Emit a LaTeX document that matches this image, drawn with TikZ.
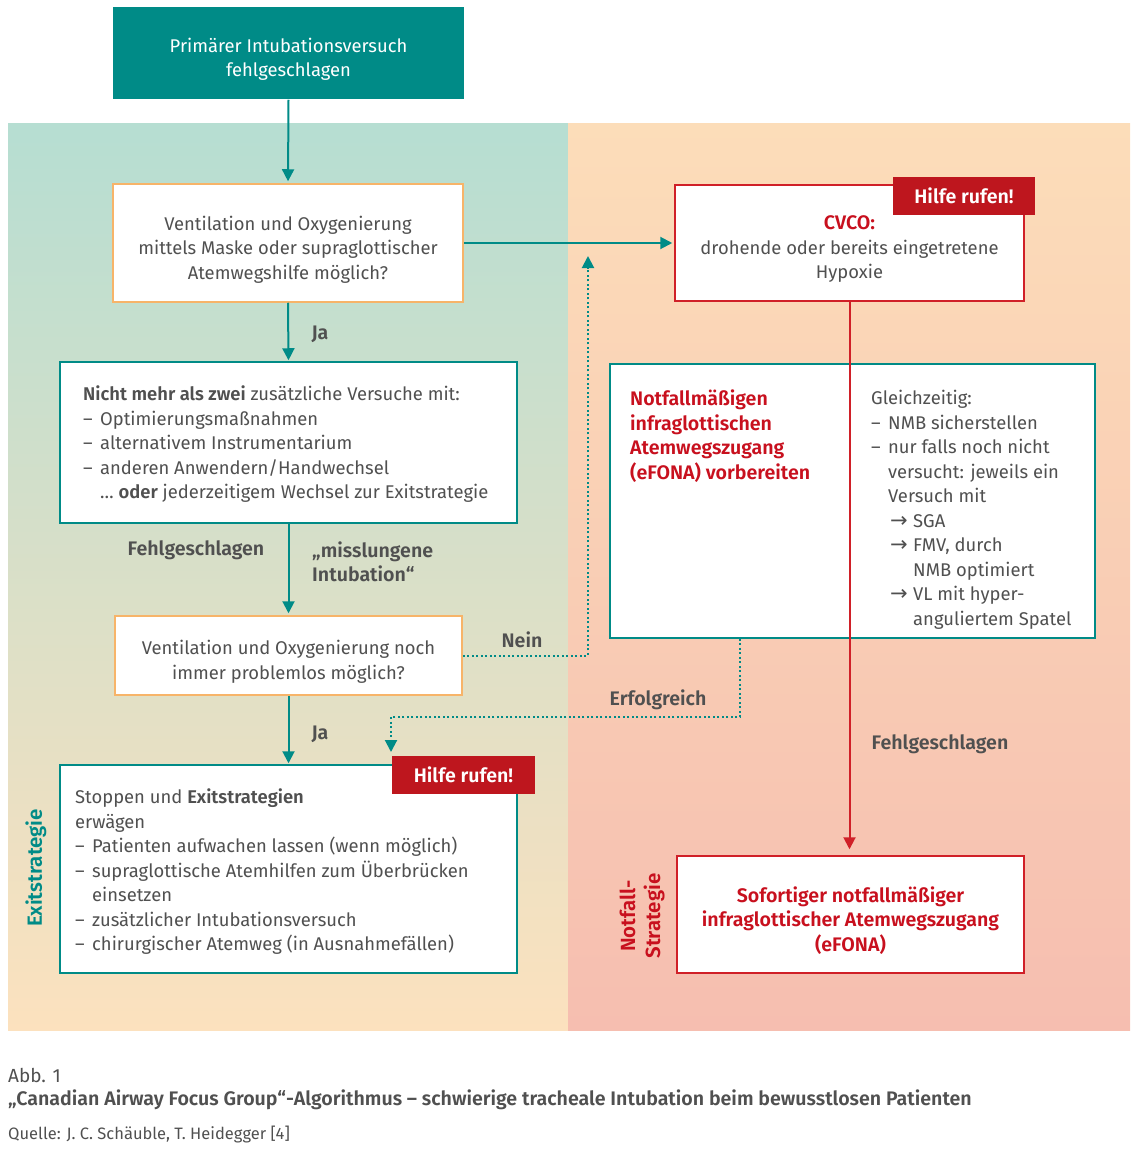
\documentclass[tikz,border=0pt]{standalone}
\usepackage{fontspec}
\setmainfont{Fira Sans}[BoldFont=* SemiBold]
\newfontfamily\arrowfont{DejaVu Sans}
\usetikzlibrary{arrows.meta}
\definecolor{teal1}{RGB}{0,139,135}
\definecolor{orng}{RGB}{247,180,105}
\definecolor{redb}{RGB}{208,32,40}
\definecolor{redt}{RGB}{200,16,30}
\definecolor{helpred}{RGB}{190,22,30}
\definecolor{txtgray}{RGB}{80,80,80}
\definecolor{ltop}{RGB}{182,222,210}
\definecolor{lmid}{RGB}{253,239,208}
\definecolor{lbot}{RGB}{252,225,190}
\definecolor{rtop}{RGB}{252,221,185}
\definecolor{rbot}{RGB}{246,190,176}
\newcommand\txt{\fontsize{18.4}{24.5}\selectfont}
\newcommand\btxt{\bfseries\fontsize{19.6}{24.5}\selectfont}
\newcommand\arr{\makebox[23pt][l]{\arrowfont\fontsize{21}{20}\selectfont →}}
\begin{document}
\begin{tikzpicture}[x=1pt,y=-1pt,
  box/.style={draw, fill=white, line width=1.5pt, inner sep=0pt},
  orangebox/.style={box, draw=orng},
  tealbox/.style={box, draw=teal1},
  redbox/.style={box, draw=redb},
  ctext/.style={font=\txt, text=txtgray, align=center, inner sep=0pt},
  helpbox/.style={fill=helpred, text=white, font=\btxt, inner sep=0pt, minimum width=142pt, minimum height=38pt},
  lbl/.style={font=\btxt, text=txtgray, inner sep=0pt},
  body/.style={font=\txt, text=txtgray, align=left, inner sep=0pt},
  tline/.style={draw=teal1, line width=2pt, -{Triangle[length=12pt,width=12pt]}},
  dline/.style={draw=teal1, line width=2pt, dash pattern=on 2pt off 2.5pt, -{Triangle[length=12pt,width=12pt]}},
  rline/.style={draw=redb, line width=2pt, -{Triangle[length=12pt,width=12pt]}}
]
\useasboundingbox (0,0) rectangle (1140,1151);
% panels
\fill[top color=ltop, middle color=lmid, bottom color=lbot] (8,123) rectangle (568,1030);
\fill[top color=rtop, bottom color=rbot] (568,123) rectangle (1130,1030);

% boxes
\node[box, fill=teal1, draw=none, minimum width=351pt, minimum height=92pt] (start) at (288.5,53) {};
\node[ctext, text=white] (startt) at (288.5,59.5) {Primärer Intubationsversuch\\fehlgeschlagen};
\node[orangebox, minimum width=350pt, minimum height=118pt] (b1) at (288,243) {};
\node[ctext] (b1t) at (288,249.5) {Ventilation und Oxygenierung\\mittels Maske oder supraglottischer\\Atemwegshilfe möglich?};
\node[redbox, minimum width=349pt, minimum height=116pt] (cvco) at (849.5,243) {};
\node[ctext] (cvcot) at (849.5,249.5) {\textcolor{redt}{\btxt CVCO:}\\drohende oder bereits eingetretene\\Hypoxie};
\node[tealbox, minimum width=457pt, minimum height=161pt] (b2) at (288.5,442.5) {};
\node[body, anchor=north west] (b2t) at (83,386) {\textbf{Nicht mehr als zwei} zusätzliche Versuche mit:\\
\makebox[17pt][l]{–}Optimierungsmaßnahmen\\
\makebox[17pt][l]{–}alternativem Instrumentarium\\
\makebox[17pt][l]{–}anderen Anwendern/Handwechsel\\
\hspace*{17pt}\dots\ \textbf{oder} jederzeitigem Wechsel zur Exitstrategie};
\node[tealbox, minimum width=485pt, minimum height=274pt] (prep) at (852.5,501) {};
\node[body, anchor=north west, text=redt, font=\btxt] (prepL) at (630,390) {Notfallmäßigen\\infraglottischen\\Atemwegszugang\\(eFONA) vorbereiten};
\node[body, anchor=north west] (prepR) at (871,390) {Gleichzeitig:\\
\makebox[17pt][l]{–}NMB sicherstellen\\
\makebox[17pt][l]{–}nur falls noch nicht\\
\hspace*{17pt}versucht: jeweils ein\\
\hspace*{17pt}Versuch mit\\
\hspace*{19pt}\arr SGA\\
\hspace*{19pt}\arr FMV, durch\\
\hspace*{42pt}NMB optimiert\\
\hspace*{19pt}\arr VL mit hyper-\\
\hspace*{42pt}anguliertem Spatel};
\node[orangebox, minimum width=347pt, minimum height=79pt] (b3) at (288.5,655.5) {};
\node[ctext] (b3t) at (288.5,662) {Ventilation und Oxygenierung noch\\immer problemlos möglich?};
\node[tealbox, minimum width=457pt, minimum height=208pt] (b4) at (288.5,869) {};
\node[body, anchor=north west] (b4t) at (75,789) {Stoppen und \textbf{Exitstrategien}\\
erwägen\\
\makebox[17pt][l]{–}Patienten aufwachen lassen (wenn möglich)\\
\makebox[17pt][l]{–}supraglottische Atemhilfen zum Überbrücken\\
\hspace*{17pt}einsetzen\\
\makebox[17pt][l]{–}zusätzlicher Intubationsversuch\\
\makebox[17pt][l]{–}chirurgischer Atemweg (in Ausnahmefällen)};
\node[redbox, minimum width=347pt, minimum height=117pt] (final) at (850.5,914.5) {};
\node[ctext, text=redt, font=\btxt] (finalt) at (850.5,920.5) {Sofortiger notfallmäßiger\\infraglottischer Atemwegszugang\\(eFONA)};

% side labels
\node[lbl, rotate=90, text=teal1, font=\bfseries\fontsize{20.5}{24}\selectfont] (exit) at (36,868) {Exitstrategie};
\node[lbl, rotate=90, text=redt, align=center, font=\bfseries\fontsize{20.5}{25}\selectfont] (notf) at (642,916) {Notfall-\\Strategie};

% connector labels
\node[lbl] (ja1) at (320,334) {Ja};
\node[lbl] (fehl1) at (196,550) {Fehlgeschlagen};
\node[lbl, align=left, anchor=west] (missl) at (312,562) {„misslungene\\Intubation“};
\node[lbl] (nein) at (522,640) {Nein};
\node[lbl] (erf) at (658,700) {Erfolgreich};
\node[lbl] (ja2) at (320,734) {Ja};
\node[lbl] (fehl2) at (940,744) {Fehlgeschlagen};

% connectors
\coordinate (neintip) at (588,256);
\coordinate (erfx) at (740,717);
\coordinate (erftip) at (391,752);
\draw[tline, shorten >=2pt] (start.south) -- (b1.north);
\draw[tline, shorten >=2pt] (b1.east) -- (cvco.west);
\draw[tline, shorten >=1pt] (b1.south) -- (b2.north);
\draw[tline, shorten >=2pt] (b2.south) -- (b3.north);
\draw[tline, shorten >=1pt] (b3.south) -- (b4.north);
\draw[dline] (b3.east) -| (neintip);
\draw[dline] (prep.south -| erfx) -- (erfx) -| (erftip);
\draw[rline, shorten >=6pt] (cvco.south) -- (cvco.south |- final.north);

% help labels
\node[helpbox] (help1) at (964,196) {Hilfe rufen!};
\node[helpbox, minimum width=143pt] (help2) at (463.5,775) {Hilfe rufen!};

% caption
\node[anchor=west, inner sep=0pt, text=txtgray, font=\fontsize{19}{22}\selectfont] (abb) at (8,1075) {Abb. 1};
\node[anchor=west, inner sep=0pt, text=txtgray, font=\bfseries\fontsize{19.6}{22}\selectfont] (title) at (8,1100) {„Canadian Airway Focus Group“-Algorithmus – schwierige tracheale Intubation beim bewusstlosen Patienten};
\node[anchor=west, inner sep=0pt, text=txtgray, font=\fontsize{16.5}{18}\selectfont] (src) at (8,1135) {Quelle: J. C. Schäuble, T. Heidegger [4]};
\end{tikzpicture}
\end{document}
